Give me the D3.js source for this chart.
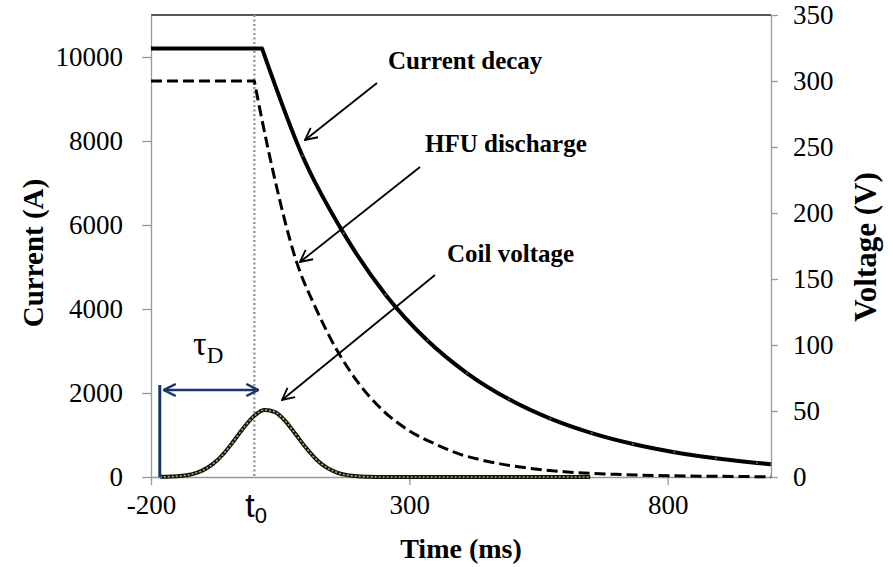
<!DOCTYPE html>
<html>
<head>
<meta charset="utf-8">
<script src="https://cdn.jsdelivr.net/npm/d3@7"></script>
<style>
  body { margin: 0; background: #fff; }
  svg text { font-family: "Liberation Serif", "DejaVu Serif", serif; }
</style>
</head>
<body>
<svg id="chart" width="893" height="567"></svg>
<script>
// time axis (ms)
const timeTicks = [-200, 300, 800];
const currentTicks = [0, 2000, 4000, 6000, 8000, 10000];
const voltageTicks = [0, 50, 100, 150, 200, 250, 300, 350];

// current decay (A), left axis
const currentTime = [-200, 15, 93, 173, 254, 335, 412, 493, 573, 653, 733, 813, 893, 973, 1000];
const currentVal  = [10200, 10200, 7650, 5800, 4340, 3250, 2470, 1850, 1390, 1045, 785, 590, 445, 335, 305];

// HFU discharge (V), right axis
const hfuTime = [-200, 0, 10, 40, 80, 120, 160, 200, 250, 300, 350, 400, 450, 500, 600, 700, 800, 900, 1000];
const hfuVal  = [300, 300, 280, 225, 165, 127, 96, 72, 50, 35, 25, 17, 12, 8.4, 4, 2, 1, 0.5, 0.2];

// coil voltage (V), right axis
const coilTime = [-183, -160, -140, -120, -100, -80, -60, -40, -20, 0, 20, 40, 60, 80, 100, 120, 140, 160, 180, 200, 220, 250, 650];
const coilVal  = [0.1, 0.3, 0.9, 2.2, 5, 9.9, 17.4, 27.2, 37.7, 46.4, 50.7, 49.2, 42.4, 32.4, 22.1, 13.3, 7.1, 3.4, 1.4, 0.5, 0.2, 0, 0];

const t0 = 0;
const tauStart = -183;

const serif = "'Liberation Serif', 'DejaVu Serif', serif";
const svg = d3.select("#chart").style("font-family", serif);
const plotLeft = 151, plotRight = 771, plotTop = 15, plotBottom = 477;

const x = d3.scaleLinear().domain([-200, 1000]).range([plotLeft, plotRight]);
const yI = d3.scaleLinear().domain([0, 11000]).range([plotBottom, plotTop]);
const yV = d3.scaleLinear().domain([0, 350]).range([plotBottom, plotTop]);

const defs = svg.append("defs");
function arrowMarker(id, color, width) {
  defs.append("marker")
    .attr("id", id)
    .attr("markerUnits", "userSpaceOnUse")
    .attr("viewBox", "0 0 14 14")
    .attr("refX", 13).attr("refY", 7)
    .attr("markerWidth", 14).attr("markerHeight", 14)
    .attr("orient", "auto-start-reverse")
    .append("path")
      .attr("d", "M1,1 L13,7 L1,13")
      .attr("fill", "none").attr("stroke", color).attr("stroke-width", width);
}
arrowMarker("arrowBlack", "#000", 1.8);
arrowMarker("arrowNavy", "#1c3468", 2.4);

// top border
svg.append("line")
  .attr("x1", plotLeft).attr("x2", plotRight)
  .attr("y1", plotTop).attr("y2", plotTop)
  .attr("stroke", "#555").attr("stroke-width", 2);

// axes
function styleAxis(g) {
  g.attr("font-family", null);
  g.select(".domain").attr("stroke", "#999").attr("stroke-width", 1.3);
  g.selectAll(".tick line").attr("stroke", "#999").attr("stroke-width", 1.3);
  g.selectAll(".tick text")
    .attr("fill", "#000")
    .style("font-family", serif)
    .style("font-size", "27px");
}
const plain = d => String(d);

svg.append("g")
  .attr("transform", `translate(0,${plotBottom})`)
  .call(d3.axisBottom(x).tickValues(timeTicks).tickFormat(plain).tickSize(8).tickPadding(10).tickSizeOuter(0))
  .call(styleAxis);

svg.append("g")
  .attr("transform", `translate(${plotLeft},0)`)
  .call(d3.axisLeft(yI).tickValues(currentTicks).tickFormat(plain).tickSize(9).tickPadding(19).tickSizeOuter(0))
  .call(styleAxis);

svg.append("g")
  .attr("transform", `translate(${plotRight},0)`)
  .call(d3.axisRight(yV).tickValues(voltageTicks).tickFormat(plain).tickSize(7).tickPadding(15).tickSizeOuter(0))
  .call(styleAxis);

// t0 dotted marker
svg.append("line")
  .attr("x1", x(t0)).attr("x2", x(t0))
  .attr("y1", plotTop).attr("y2", plotBottom)
  .attr("stroke", "#9a9a9a").attr("stroke-width", 2.5)
  .attr("stroke-dasharray", "2,2.5");

// coil voltage
const coilLine = d3.line()
  .x((d, i) => x(coilTime[i]))
  .y(d => yV(d))
  .curve(d3.curveMonotoneX);
svg.append("path")
  .attr("d", coilLine(coilVal))
  .attr("fill", "none").attr("stroke", "#111").attr("stroke-width", 4);
svg.append("path")
  .attr("d", coilLine(coilVal))
  .attr("fill", "none").attr("stroke", "#9bbb59").attr("stroke-width", 1.6)
  .attr("stroke-dasharray", "2,2");

// flat part straight, decay part smoothed
function drawSeries(times, vals, yScale, attrs) {
  const pts = times.map((t, i) => [x(t), yScale(vals[i])]);
  const flat = d3.line()(pts.slice(0, 2));
  const decay = d3.line().curve(d3.curveMonotoneX)(pts.slice(1));
  const p = svg.append("path")
    .attr("d", flat + decay.replace(/^M/, "L"))
    .attr("fill", "none")
    .attr("stroke-linejoin", "round");
  Object.entries(attrs).forEach(([k, v]) => p.attr(k, v));
}

// HFU discharge
drawSeries(hfuTime, hfuVal, yV, { "stroke": "#000", "stroke-width": 3, "stroke-dasharray": "11,5" });

// current decay
drawSeries(currentTime, currentVal, yI, { "stroke": "#000", "stroke-width": 4 });
svg.selectAll("circle.cur")
  .data(currentVal.slice(2))
  .join("circle")
    .attr("class", "cur")
    .attr("cx", (d, i) => x(currentTime[i + 2]))
    .attr("cy", d => yI(d))
    .attr("r", 1.1)
    .attr("fill", "#7b3fc4");

// tau_D marker
svg.append("line")
  .attr("x1", x(tauStart)).attr("x2", x(tauStart))
  .attr("y1", plotBottom).attr("y2", 385)
  .attr("stroke", "#1c3468").attr("stroke-width", 3);
svg.append("line")
  .attr("x1", x(tauStart) + 4).attr("x2", x(t0) + 4)
  .attr("y1", 390).attr("y2", 390)
  .attr("stroke", "#1c3468").attr("stroke-width", 2.4)
  .attr("marker-start", "url(#arrowNavy)")
  .attr("marker-end", "url(#arrowNavy)");

const tau = svg.append("text").attr("x", 193).attr("y", 355)
  .style("font-family", serif)
  .style("font-size", "34px").attr("fill", "#000");
tau.append("tspan").text("τ");
tau.append("tspan").attr("dy", 8).style("font-size", "23px").text("D");

const tl = svg.append("text").attr("x", x(t0) - 9).attr("y", 517)
  .style("font-family", "'Liberation Sans', sans-serif")
  .style("font-size", "34px").attr("fill", "#000");
tl.append("tspan").text("t");
tl.append("tspan").attr("dy", 6).style("font-size", "22px").text("0");

// annotations
const notes = [
  { label: "Current decay", tx: 388, ty: 69, from: [377, 83], to: [305, 140] },
  { label: "HFU discharge", tx: 425, ty: 152, from: [420, 167], to: [300, 262] },
  { label: "Coil voltage", tx: 447, ty: 262, from: [435, 275], to: [282, 400] }
];
notes.forEach(n => {
  svg.append("text")
    .attr("x", n.tx).attr("y", n.ty)
    .style("font-family", serif)
    .style("font-size", "25px").style("font-weight", "bold")
    .attr("fill", "#000")
    .text(n.label);
  svg.append("line")
    .attr("x1", n.from[0]).attr("y1", n.from[1])
    .attr("x2", n.to[0]).attr("y2", n.to[1])
    .attr("stroke", "#000").attr("stroke-width", 1.8)
    .attr("marker-end", "url(#arrowBlack)");
});

// axis titles
svg.append("text")
  .attr("transform", "translate(43,253) rotate(-90)")
  .attr("text-anchor", "middle")
  .style("font-family", serif)
  .style("font-size", "29px").style("font-weight", "bold")
  .text("Current (A)");
svg.append("text")
  .attr("transform", "translate(876,247) rotate(-90)")
  .attr("text-anchor", "middle")
  .style("font-family", serif)
  .style("font-size", "31px").style("font-weight", "bold")
  .text("Voltage (V)");
svg.append("text")
  .attr("x", (plotLeft + plotRight) / 2).attr("y", 558)
  .attr("text-anchor", "middle")
  .style("font-family", serif)
  .style("font-size", "28px").style("font-weight", "bold")
  .text("Time (ms)");
</script>
</body>
</html>
